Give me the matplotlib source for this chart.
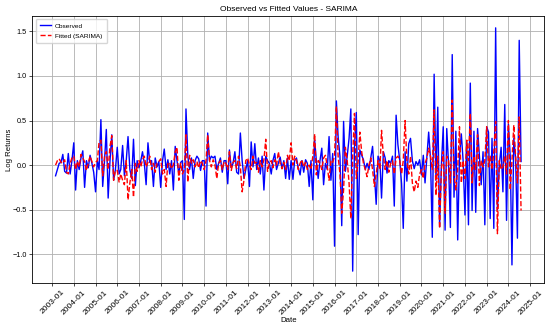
import matplotlib
matplotlib.use("Agg")
import matplotlib.pyplot as plt
import matplotlib.dates as mdates
from matplotlib import font_manager
import pandas as pd

# monthly log returns, 2003-03 .. 2024-08
observed = [
    -0.12, -0.05, 0.02, 0.03, 0.12, -0.07, -0.09, 0.13, -0.10, 0.05,                    # 2003
    0.25, -0.28, 0.05, -0.05, 0.08, 0.16, -0.25, 0.05, -0.03, 0.11, 0.02, -0.08,        # 2004
    -0.30, 0.05, -0.05, 0.51, -0.24, 0.05, 0.40, -0.37, 0.05, 0.34, -0.17, -0.05,       # 2005
    0.20, -0.10, -0.05, 0.22, -0.12, 0.05, 0.32, -0.05, -0.15, 0.29, -0.23, 0.05,       # 2006
    -0.03, 0.05, 0.15, 0.02, -0.22, 0.25, 0.03, 0.05, -0.24, 0.08, -0.02, 0.04,         # 2007
    -0.25, 0.05, 0.18, -0.05, 0.06, -0.10, 0.05, -0.28, 0.21, 0.05, -0.10, 0.03,        # 2008
    0.05, -0.61, 0.63, 0.10, -0.05, 0.08, -0.15, 0.05, 0.10, 0.07, -0.06, 0.05,         # 2009
    0.05, -0.46, 0.36, 0.05, 0.10, 0.08, 0.10, -0.05, 0.02, 0.08, -0.08, 0.05,          # 2010
    0.05, -0.21, 0.17, -0.03, 0.02, 0.15, -0.08, -0.10, 0.36, 0.05, -0.15, -0.05,       # 2011
    0.05, -0.24, 0.26, -0.02, 0.24, -0.05, 0.08, -0.10, 0.10, -0.28, 0.10, 0.05,        # 2012
    0.02, -0.10, 0.05, 0.13, -0.05, 0.02, 0.09, -0.04, 0.05, -0.15, 0.08, -0.16,        # 2013
    0.05, -0.16, 0.05, 0.08, -0.03, -0.11, 0.05, -0.08, 0.06, 0.02, -0.24, 0.05,        # 2014
    -0.39, 0.28, 0.05, -0.15, 0.05, 0.19, -0.22, 0.02, -0.05, 0.32, -0.17, 0.13,        # 2015
    -0.91, 0.72, 0.32, 0.10, -0.68, 0.49, -0.07, 0.10, 0.30, 0.63, -1.19, 0.20,         # 2016
    0.59, -0.78, 0.17, 0.11, 0.06, -0.05, 0.02, -0.05, 0.08, 0.21, -0.10, -0.44,        # 2017
    0.10, 0.05, -0.37, 0.15, 0.08, -0.09, 0.05, 0.02, 0.10, -0.46, 0.56, 0.23,          # 2018
    0.05, -0.21, -0.71, 0.15, -0.18, 0.24, 0.30, 0.05, -0.04, 0.04, 0.00, 0.06,         # 2019
    -0.11, 0.11, -0.20, 0.09, 0.37, 0.07, -0.81, 1.02, -0.17, 0.65, -0.69, 0.00,        # 2020
    0.43, -0.73, 0.41, 0.00, -0.70, 1.24, -0.36, 0.38, -0.84, 0.10, 0.35, 0.05,         # 2021
    -0.56, 0.26, -0.67, 0.92, -0.51, 0.38, -0.53, 0.41, 0.10, -0.22, 0.15, -0.67,       # 2022
    0.43, 0.37, -0.60, 0.30, -0.71, 1.54, -0.50, 0.00, 0.20, -0.30, 0.68, -0.62,        # 2023
    0.46, 0.10, -1.12, 0.30, 0.08, -0.82, 1.40, 0.04,                                   # 2024
]

fitted = [
    0.00, 0.05, 0.07, 0.03, 0.02, 0.06, -0.08, -0.10, 0.02, 0.08,                       # 2003
    0.10, -0.05, 0.04, -0.02, 0.12, 0.08, 0.04, -0.06, 0.02, 0.10, 0.04, -0.02,         # 2004
    0.03, 0.05, 0.26, 0.28, -0.12, 0.10, 0.15, -0.05, 0.21, 0.33, -0.17, -0.06,         # 2005
    -0.06, -0.19, -0.10, -0.17, -0.22, 0.05, -0.39, -0.20, -0.05, -0.36, 0.02, -0.07,   # 2006
    0.05, -0.02, 0.06, 0.10, -0.02, 0.03, 0.10, -0.05, 0.02, -0.08, 0.02, 0.04,         # 2007
    0.07, -0.10, -0.05, -0.24, 0.03, 0.02, -0.04, 0.00, 0.15, 0.20, -0.17, 0.02,        # 2008
    -0.10, -0.05, 0.34, -0.19, 0.11, 0.02, 0.06, -0.02, 0.04, -0.03, 0.05, 0.02,        # 2009
    -0.05, 0.05, 0.34, 0.05, -0.02, 0.06, 0.00, -0.15, 0.02, 0.05, -0.05, 0.04,         # 2010
    0.02, -0.05, 0.15, -0.06, 0.03, 0.05, -0.04, 0.10, -0.02, -0.30, -0.17, 0.05,       # 2011
    0.08, 0.00, -0.05, 0.10, 0.02, 0.03, -0.08, 0.05, -0.02, 0.06, 0.29, -0.07,         # 2012
    0.02, 0.05, -0.03, 0.06, 0.00, 0.15, 0.02, -0.04, 0.03, -0.05, 0.11, 0.05,          # 2013
    0.25, 0.00, 0.10, 0.05, -0.05, 0.02, 0.06, -0.02, 0.03, -0.05, 0.00, -0.05,         # 2014
    0.10, 0.35, -0.11, 0.05, 0.02, -0.05, 0.08, 0.11, -0.02, -0.17, 0.05, 0.03,         # 2015
    0.10, 0.66, 0.10, -0.10, -0.54, -0.28, 0.20, 0.05, -0.20, -0.60, 0.10, 0.58,        # 2016
    -0.15, 0.05, 0.37, 0.15, 0.02, -0.05, -0.13, 0.00, 0.08, -0.05, -0.24, -0.10,       # 2017
    0.05, -0.05, 0.39, 0.10, -0.05, 0.05, -0.08, 0.02, 0.05, -0.10, 0.08, 0.10,         # 2018
    0.05, -0.10, 0.05, 0.50, 0.05, -0.10, 0.10, -0.20, -0.30, -0.18, -0.25, -0.10,      # 2019
    -0.05, -0.15, 0.02, 0.08, 0.19, 0.10, -0.05, 0.62, -0.34, 0.10, -0.71, -0.05,       # 2020
    0.15, -0.54, 0.10, 0.05, -0.20, 0.73, -0.10, -0.28, -0.05, 0.43, -0.20, 0.05,       # 2021
    -0.15, 0.28, 0.05, 0.58, -0.20, 0.10, -0.05, 0.34, -0.23, 0.05, -0.02, 0.05,        # 2022
    0.43, -0.02, 0.10, -0.05, 0.15, 0.49, -0.77, 0.05, -0.05, -0.02, 0.10, -0.10,       # 2023
    0.50, -0.28, 0.05, 0.45, 0.10, -0.20, 0.54, -0.51,                                  # 2024
]

dates = pd.date_range("2003-03-01", periods=len(observed), freq="MS")

# the reference text looks horizontally squeezed, so prefer a condensed face
installed = {f.name for f in font_manager.fontManager.ttflist}
family, k = "DejaVu Sans", 0.9
for name, mult in [("DejaVu Sans Condensed", 0.97), ("Liberation Sans Narrow", 1.0),
                   ("Liberation Sans", 0.95)]:
    if name in installed:
        family, k = name, mult
        break
plt.rcParams["font.family"] = [family, "DejaVu Sans"]

fig = plt.figure(figsize=(5.5, 3.31), dpi=100)
ax = fig.add_axes([0.0587, 0.1441, 0.931, 0.8085])

ax.plot(dates, observed, color="blue", lw=1.0, label="Observed")
ax.plot(dates, fitted, color="red", lw=1.0, ls="--", label="Fitted (SARIMA)")

ax.set_title("Observed vs Fitted Values - SARIMA", fontsize=6.3 * k, pad=3.5)
ax.set_xlabel("Date", fontsize=5.9 * k, labelpad=1)
ax.set_ylabel("Log Returns", fontsize=5.9 * k)
ax.yaxis.set_label_coords(-0.038, 0.5)

ax.xaxis.set_major_locator(mdates.YearLocator())
ax.xaxis.set_major_formatter(mdates.DateFormatter("%Y-%m"))
plt.setp(ax.get_xticklabels(), rotation=45)
ax.tick_params(axis="x", labelsize=6.4 * k, length=2.5, width=0.5, pad=1.5)
ax.tick_params(axis="y", labelsize=5.5 * k, length=2.5, width=0.5, pad=1.5)
ax.grid(True, color="#b0b0b0", lw=0.6)
for s in ax.spines.values():
    s.set_linewidth(0.6)

ax.legend(loc="upper left", fontsize=4.9 * k, handlelength=1.8, handletextpad=0.6,
          borderpad=0.65, labelspacing=0.7, framealpha=0.8)

fig.savefig("out.png", dpi=100)
